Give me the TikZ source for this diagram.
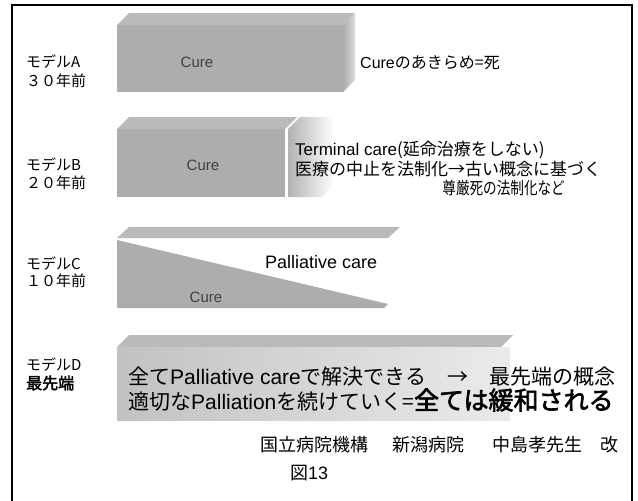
\documentclass[tikz,border=0pt]{standalone}
\usepackage{fontspec}
\setmainfont{Liberation Sans}
\newfontfamily\jp[AutoFakeBold=2.5]{Noto Sans CJK JP}
\begin{document}
\begin{tikzpicture}[x=1pt,y=-1pt,
  topf/.style={fill=black!27},
  front/.style={fill=black!32},
  lbl/.style={anchor=west,inner sep=0pt,font=\jp\fontsize{15}{18}\selectfont},
  curetxt/.style={inner sep=0pt,text=black!75,font=\fontsize{15}{18}\selectfont},
  jtxt/.style={anchor=west,inner sep=0pt,font=\fontsize{17}{20}\selectfont},
  dtxt/.style={anchor=west,inner sep=0pt,font=\fontsize{21}{24}\selectfont},
  foot/.style={anchor=west,inner sep=0pt,font=\jp\fontsize{18}{21}\selectfont}]
\useasboundingbox (0,0) rectangle (638,501);
\clip (0,0) rectangle (638,501);
% frame
\draw[line width=1.1pt] (12,520) -- (12,5) -- (632,5) -- (632,520);

% ---- Model A bar
\fill[topf] (117,25) -- (129,13) -- (355,13) -- (343,25) -- cycle;
\fill[front] (117,25) rectangle (343,92);
\shade[left color=black!32,right color=black!14] (343,25) -- (355,13) -- (355,80) -- (343,92) -- cycle;

% ---- Model B bars
\fill[topf] (117,129) -- (129,117) -- (297,117) -- (285,129) -- cycle;
\fill[front] (117,129) rectangle (285,197);
\shade[left color=black!30,right color=white] (288,129) -- (300,117) -- (334,117) -- (334,185) -- (322,197) -- (288,197) -- cycle;

% ---- Model C
\fill[topf] (117,238) -- (129,227) -- (400,227) -- (388,238) -- cycle;
\fill[front] (117,240) -- (388,304) -- (384,308) -- (117,308) -- cycle;

% ---- Model D
\fill[topf] (117,347) -- (129,335) -- (513,335) -- (501,347) -- cycle;
\shade[left color=black!24,right color=black!8] (117,347) rectangle (510,420);

% ---- left labels
\node[lbl] (la1) at (26,62) {モデルA};
\node[lbl] (la2) at (26,81) {３０年前};
\node[lbl] (lb1) at (26,165) {モデルB};
\node[lbl] (lb2) at (26,183) {２０年前};
\node[lbl] (lc1) at (26,264) {モデルC};
\node[lbl] (lc2) at (26,281) {１０年前};
\node[lbl] (ld1) at (26,365) {モデルD};
\node[lbl,font=\jp\bfseries\fontsize{16}{19}\selectfont] (ld2) at (26,383) {最先端};

% ---- bar texts
\node[curetxt] (ca) at (197,62) {Cure};
\node[curetxt] (cb) at (203,165) {Cure};
\node[curetxt] (cc) at (206,297) {Cure};

\node[anchor=west,inner sep=0pt,font=\fontsize{16}{19}\selectfont] (ta) at (360,63) {Cure{\jp のあきらめ=死}};

\node[jtxt] (tb1) at (295,150) {Terminal care{\jp (延命治療をしない)}};
\node[jtxt] (tb2) at (295,169) {\jp 医療の中止を法制化→古い概念に基づく};
\node[jtxt,anchor=east,xscale=0.8] (tb3) at (565,188) {\jp 尊厳死の法制化など};

\node[anchor=west,inner sep=0pt,font=\fontsize{18}{21}\selectfont] (pc) at (265,262) {Palliative care};

\node[dtxt] (d1) at (128,377) {{\jp 全て}Palliative care{\jp で解決できる　→　最先端の概念}};
\node[dtxt] (d2) at (128,400) {{\jp 適切な}Palliation{\jp を続けていく=}{\jp\bfseries\fontsize{25}{28}\selectfont 全ては緩和される}};

% ---- footer
\node[foot] (f1) at (260,445) {国立病院機構};
\node[foot] (f2) at (392,445) {新潟病院};
\node[foot] (f3) at (492,445) {中島孝先生};
\node[foot] (f4) at (600,445) {改};
\node[anchor=west,inner sep=0pt,font=\fontsize{18}{21}\selectfont] (fig) at (290,473) {{\jp 図}13};
\end{tikzpicture}
\end{document}
